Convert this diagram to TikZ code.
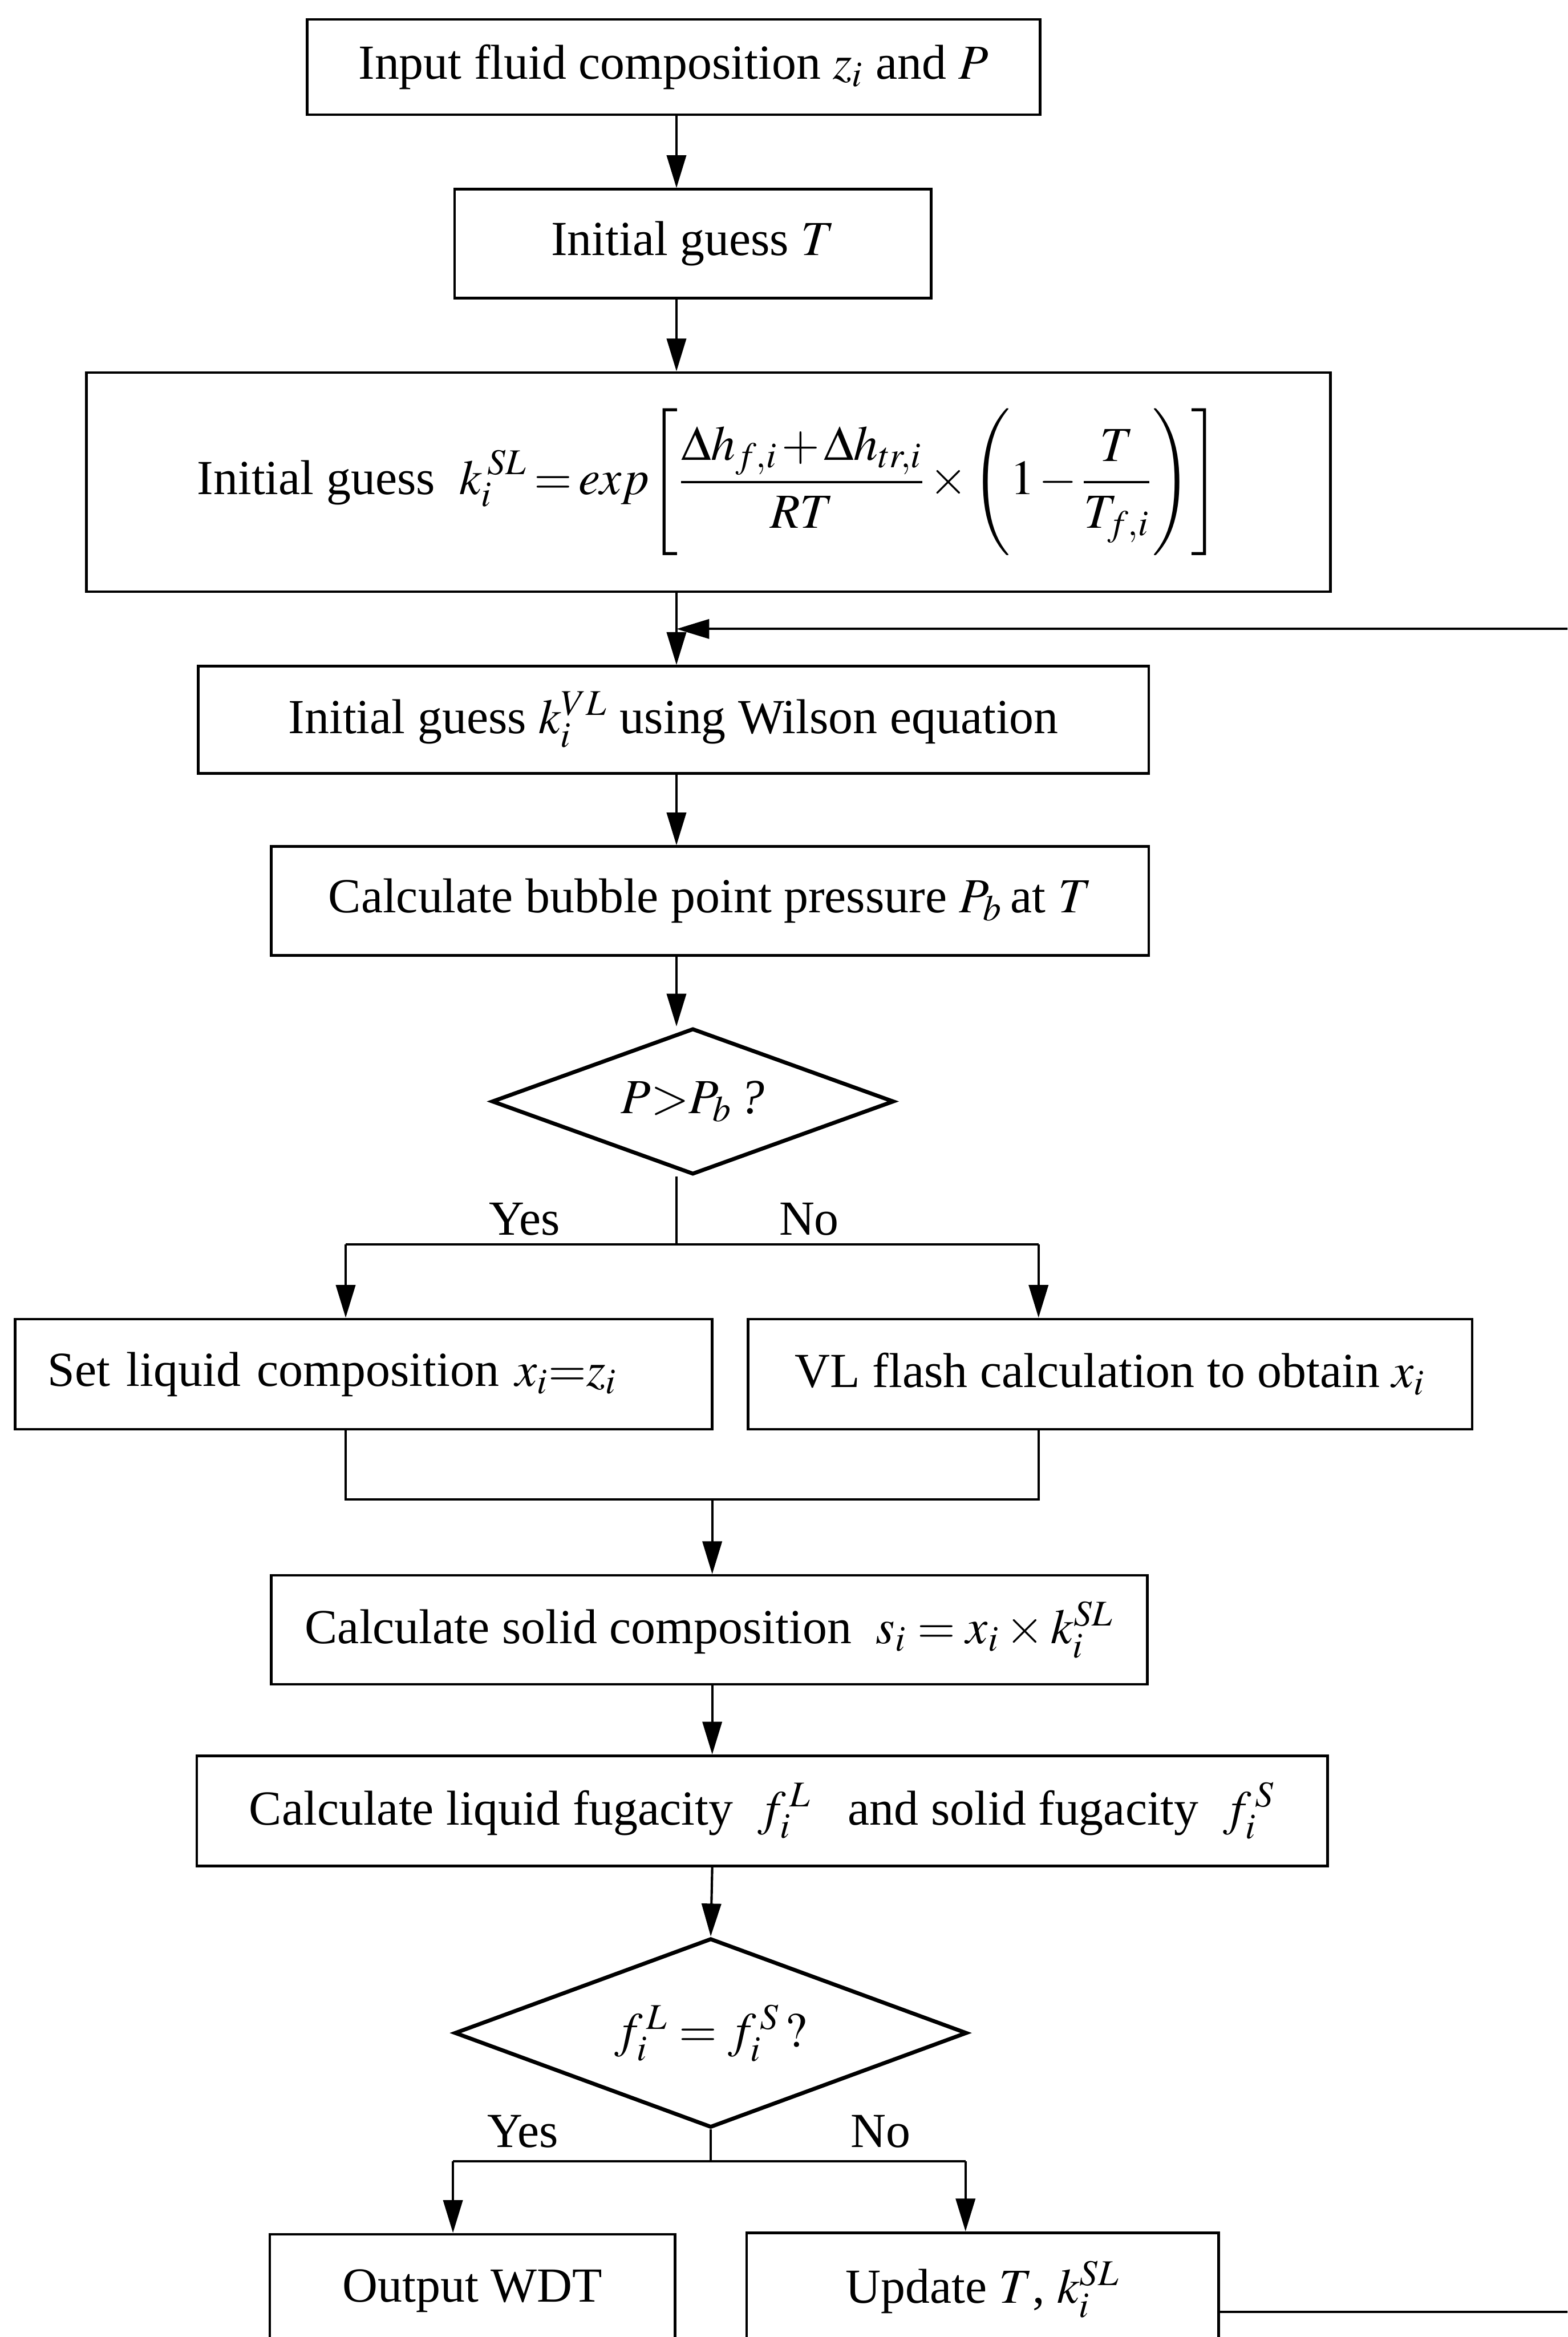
\documentclass[tikz,border=0pt]{standalone}
\usepackage{mathptmx}
\usepackage[no-math]{fontspec}
\setmainfont{Liberation Serif}
\usetikzlibrary{shapes.geometric,arrows.meta}

\begin{document}
\begin{tikzpicture}[x=0.02cm, y=-0.02cm,
  every node/.style={font=\fontsize{18.7}{22}\selectfont},
  box/.style={draw, line width=1pt, inner sep=0pt},
  dec/.style={diamond, aspect=2.75, draw, line width=1.5pt, inner sep=0pt},
  arr/.style={line width=0.9pt, -{Triangle[length=0.44cm, width=0.26cm]}},
  ln/.style={line width=0.9pt}]
  \useasboundingbox (0,0) rectangle (1052,1568);
  \clip (0,0) rectangle (1052,1568);

  \coordinate (spine) at (454,0);
  \coordinate (spinetwo) at (478,0);

  \node[box, minimum width=9.84cm, minimum height=1.28cm] (input) at (452,45)
    {Input fluid composition $z_i$ and $P$};
  \node[box, minimum width=6.4cm, minimum height=1.46cm] (guessT) at (465,163.5)
    {Initial guess $T$};
  \node[box, minimum width=16.7cm, minimum height=2.94cm] (guessSL) at (475.5,323.5)
    {Initial guess\ \ $\thickmuskip=2.5mu\medmuskip=1.5mu\displaystyle k_i^{\;SL}=exp\Biggl[\frac{\Delta h_{f,i}+\Delta h_{tr,i}}{RT}\times\Biggl(1-\frac{T}{T_{f,i}}\Biggr)\Biggr]$};
  \node[box, minimum width=12.76cm, minimum height=1.44cm] (guessVL) at (452,483)
    {Initial guess $k_i^{VL}$ using Wilson equation};
  \node[box, minimum width=11.78cm, minimum height=1.46cm] (bubble) at (476.5,604.5)
    {Calculate bubble point pressure $P_b$\,at $T$};
  \node[dec, minimum width=5.4cm, minimum height=1.96cm] (chkP) at (465,739)
    {$P{>}P_b$\textit{\,?}};
  \node[box, minimum width=9.36cm, minimum height=1.48cm, text width=8.48cm,
    inner xsep=0.44cm, align=left] (setx) at (244,922)
    {Set liquid composition $x_i{=}z_i$};
  \node[box, minimum width=9.72cm, minimum height=1.48cm] (flash) at (745,922)
    {VL flash calculation to obtain $x_i$};
  \node[box, minimum width=11.76cm, minimum height=1.46cm] (solid) at (476,1093.5)
    {Calculate solid composition\ \ $s_i=x_i\times k_i^{SL}$};
  \node[box, minimum width=15.18cm, minimum height=1.48cm] (fug) at (511.5,1215)
    {Calculate liquid fugacity\ \ $f_i^{\,L}$\ \ \ and solid fugacity\ \ $f_i^{\,S}$};
  \node[dec, minimum width=6.88cm, minimum height=2.54cm] (chkf) at (477,1364)
    {$f_i^{\,L}=f_i^{\,S}\,?$};
  \node[box, minimum width=5.44cm, minimum height=1.52cm] (wdt) at (317,1537)
    {Output WDT};
  \node[box, minimum width=6.34cm, minimum height=1.52cm] (upd) at (659.5,1536)
    {Update $T$, $k_i^{SL}$};

  \node (yesP) at (352,818) {Yes};
  \node (noP) at (543,818) {No};
  \node (yesf) at (351,1430) {Yes};
  \node (nof) at (591,1430) {No};

  \coordinate (yesone) at (232,835);
  \coordinate (noone) at (697,835);
  \coordinate (mergeL) at (232,1006);
  \coordinate (mergeR) at (697,1006);
  \coordinate (yestwo) at (304,1450);
  \coordinate (notwo) at (648,1450);
  \coordinate (ret) at (1100,422);

  \draw[arr] (spine |- input.south) -- (spine |- guessT.north);
  \draw[arr] (spine |- guessT.south) -- (spine |- guessSL.north);
  \draw[arr] (spine |- guessSL.south) -- (spine |- guessVL.north);
  \draw[arr] (spine |- guessVL.south) -- (spine |- bubble.north);
  \draw[arr] (spine |- bubble.south) -- (spine |- chkP.north);
  \draw[ln] (spine |- chkP.south) -- (spine |- yesone);
  \draw[ln] (yesone) -- (noone);
  \draw[arr] (yesone) -- (yesone |- setx.north);
  \draw[arr] (noone) -- (noone |- flash.north);
  \draw[ln] (yesone |- setx.south) -- (mergeL) -- (mergeR) -- (noone |- flash.south);
  \draw[arr] (spinetwo |- mergeL) -- (spinetwo |- solid.north);
  \draw[arr] (spinetwo |- solid.south) -- (spinetwo |- fug.north);
  \draw[arr] (spinetwo |- fug.south) -- (chkf.north);
  \draw[ln] (chkf.south) -- (chkf.south |- yestwo);
  \draw[ln] (yestwo) -- (notwo);
  \draw[arr] (yestwo) -- (yestwo |- wdt.north);
  \draw[arr] (notwo) -- (notwo |- upd.north);
  \draw[arr] ([yshift=-0.3cm]upd.east) -| (ret) -- (spine |- ret);
\end{tikzpicture}
\end{document}
